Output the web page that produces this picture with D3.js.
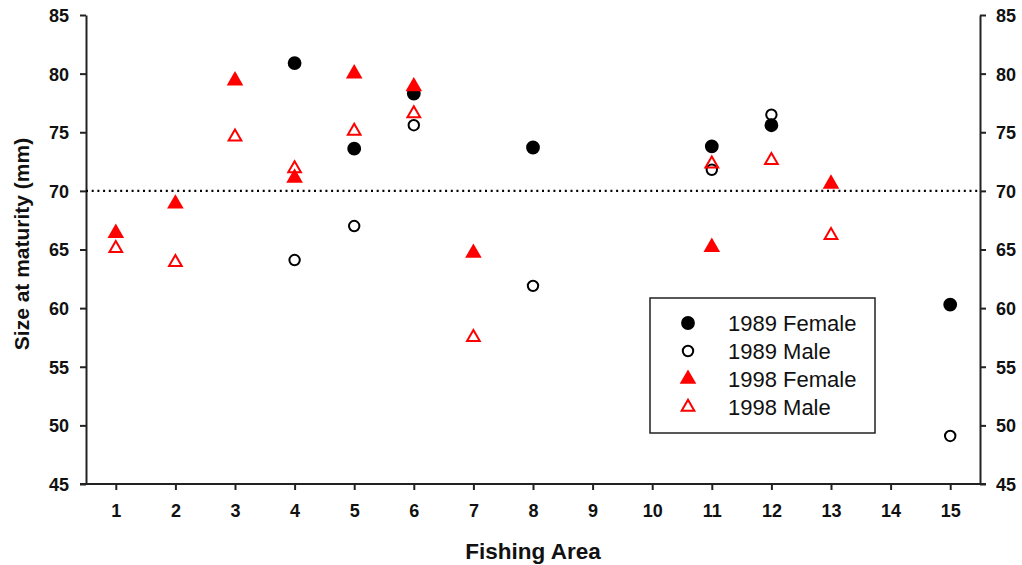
<!DOCTYPE html>
<html>
<head>
<meta charset="utf-8">
<script src="https://cdn.jsdelivr.net/npm/d3@7"></script>
<style>
  body { margin: 0; background: #fff; }
  svg { font-family: "Liberation Sans", Arial, sans-serif; }
  .axis path, .axis line { stroke: #222; stroke-width: 2; }
  .axis text { font-size: 18px; font-weight: bold; fill: #111; }
  .title { font-weight: bold; fill: #111; }
</style>
</head>
<body>
<div id="chart"></div>
<script>
// Size at maturity (mm) by fishing area
const areas = [1, 2, 3, 4, 5, 6, 7, 8, 9, 10, 11, 12, 13, 14, 15];
const yTicks = [45, 50, 55, 60, 65, 70, 75, 80, 85];
const referenceSize = 70;

const female1989 = [[4, 80.9], [5, 73.6], [6, 78.3], [8, 73.7], [11, 73.8], [12, 75.6], [15, 60.3]];
const male1989 = [[4, 64.1], [5, 67.0], [6, 75.6], [8, 61.9], [11, 71.8], [12, 76.5], [15, 49.1]];
const female1998 = [[1, 66.4], [2, 68.9], [3, 79.4], [4, 71.1], [5, 80.0], [6, 78.9], [7, 64.7], [11, 65.2], [13, 70.6]];
const male1998 = [[1, 65.1], [2, 63.9], [3, 74.6], [4, 71.9], [5, 75.1], [6, 76.6], [7, 57.5], [11, 72.3], [12, 72.6], [13, 66.2]];

const series = [
    { name: '1989 Female', data: female1989, shape: 'circle', filled: true, color: '#000' },
    { name: '1989 Male', data: male1989, shape: 'circle', filled: false, color: '#000' },
    { name: '1998 Female', data: female1998, shape: 'triangle', filled: true, color: '#ff0000' },
    { name: '1998 Male', data: male1998, shape: 'triangle', filled: false, color: '#ff0000' }
];

const width = 1022, height = 565;
const margin = { top: 15, right: 42, bottom: 81, left: 86 };

const svg = d3.select('#chart').append('svg')
    .attr('width', width)
    .attr('height', height);

const x = d3.scaleLinear().domain([0.5, 15.5]).range([margin.left, width - margin.right]);
const y = d3.scaleLinear().domain([45, 85]).range([height - margin.bottom, margin.top]);

// Axes
svg.append('g')
    .attr('class', 'axis')
    .attr('transform', `translate(0,${height - margin.bottom})`)
    .call(d3.axisBottom(x).tickValues(areas).tickSize(6).tickPadding(14).tickSizeOuter(0))
    .call(g => g.select('.domain').attr('d', `M${margin.left - 6},0H${width - margin.right + 6}`))
    .call(g => g.selectAll('text').attr('dy', '0.71em'));

svg.append('g')
    .attr('class', 'axis')
    .attr('transform', `translate(${margin.left},0)`)
    .call(d3.axisLeft(y).tickValues(yTicks).tickSize(6).tickPadding(11).tickSizeOuter(0))
    .call(g => g.selectAll('text').attr('dy', '0.36em'));

svg.append('g')
    .attr('class', 'axis')
    .attr('transform', `translate(${width - margin.right},0)`)
    .call(d3.axisRight(y).tickValues(yTicks).tickSize(6).tickPadding(10).tickSizeOuter(0))
    .call(g => g.selectAll('text').attr('dy', '0.36em'));

// Reference line
svg.append('line')
    .attr('x1', margin.left)
    .attr('x2', width - margin.right)
    .attr('y1', y(referenceSize))
    .attr('y2', y(referenceSize))
    .attr('stroke', '#000')
    .attr('stroke-width', 2.2)
    .attr('stroke-dasharray', '2,3.7');

// Axis titles
svg.append('text')
    .attr('class', 'title')
    .attr('transform', 'translate(29,244) rotate(-90)')
    .attr('text-anchor', 'middle')
    .style('font-size', '21px')
    .text('Size at maturity (mm)');

svg.append('text')
    .attr('class', 'title')
    .attr('x', 533)
    .attr('y', 559)
    .attr('text-anchor', 'middle')
    .style('font-size', '22.5px')
    .text('Fishing Area');

function marker(sel, s) {
    const filledSize = s.shape === 'circle' ? 150 : 120;
    const openSize = s.shape === 'circle' ? 85 : 70;
    sel.attr('d', d3.symbol()
            .type(s.shape === 'circle' ? d3.symbolCircle : d3.symbolTriangle)
            .size(s.filled ? filledSize : openSize))
        .attr('fill', s.filled ? s.color : '#fff')
        .attr('fill-opacity', s.filled ? 1 : 0)
        .attr('stroke', s.color)
        .attr('stroke-width', s.filled ? 0 : 2);
}

// Points
series.forEach(s => {
    svg.append('g')
        .selectAll('path')
        .data(s.data)
        .join('path')
        .attr('transform', d => `translate(${x(d[0])},${y(d[1])})`)
        .call(marker, s);
});

// Legend
const legend = svg.append('g').attr('transform', 'translate(650,298)');
legend.append('rect')
    .attr('width', 225)
    .attr('height', 135)
    .attr('fill', '#fff')
    .attr('stroke', '#222')
    .attr('stroke-width', 1.5);

series.forEach((s, i) => {
    const row = legend.append('g').attr('transform', `translate(0,${25 + i * 28})`);
    row.append('path')
        .attr('transform', 'translate(38,0)')
        .call(marker, s);
    row.append('text')
        .attr('x', 78)
        .attr('dy', '0.36em')
        .style('font-size', '22px')
        .attr('fill', '#111')
        .text(s.name);
});
</script>
</body>
</html>
